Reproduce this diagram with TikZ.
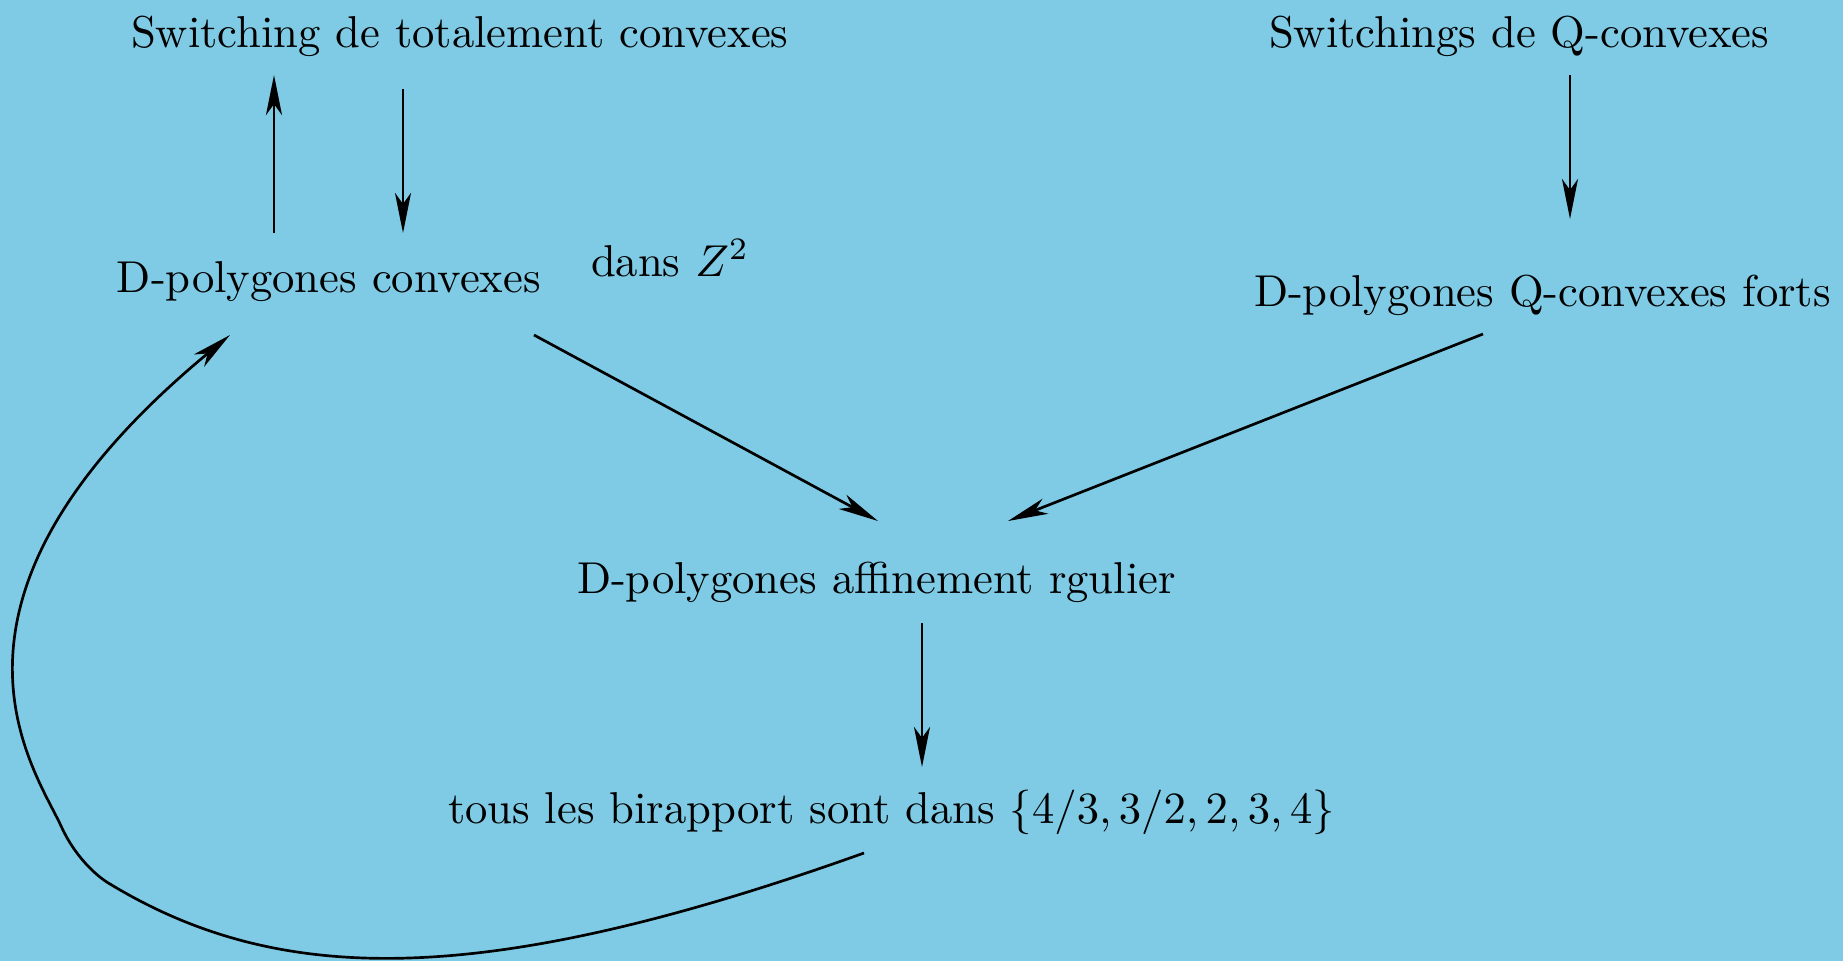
\documentclass[tikz,border=0pt]{standalone}
\usetikzlibrary{arrows.meta,calc}
\definecolor{bgblue}{RGB}{127,203,229}
\begin{document}
\begin{tikzpicture}[x=0.224pt,y=-0.224pt,
  lbl/.style={inner sep=0pt,outer sep=0pt,anchor=base west,font=\normalsize},
  arr/.style={line width=0.6pt,-{Stealth[length=9pt,width=3.6pt,inset=2.5pt]}}]
\fill[bgblue] (0,0) rectangle (1843,961);
\useasboundingbox (0,0) rectangle (1843,961);
\node[lbl] (st) at (131,47) {Switching de totalement convexes};
\node[lbl] (sq) at (1269,47) {Switchings de Q-convexes};
\node[lbl] (dc) at (117,292) {D-polygones convexes};
\node[lbl] (dz) at (591,276) {dans $Z^2$};
\node[lbl] (dq) at (1254,306) {D-polygones Q-convexes forts};
\node[lbl] (da) at (577,593) {D-polygones affinement rgulier};
\node[lbl] (tb) at (448,823) {tous les birapport sont dans $\{4/3,3/2,2,3,4\}$};
\coordinate (b1) at (110,884);
\coordinate (b2) at (62,828);
\draw[arr] ($(dc.base west)+(157,-59)$) -- ($(st.base west)+(143,28)$);
\draw[arr] ($(st.base west)+(272,42)$) -- ($(dc.base west)+(286,-59)$);
\draw[arr] ($(sq.base west)+(301,28)$) -- ($(dq.base west)+(316,-87)$);
\draw[arr] ($(dc.base west)+(417,43)$) -- ($(da.base west)+(301,-72)$);
\draw[arr] ($(dq.base west)+(229,28)$) -- ($(da.base west)+(431,-72)$);
\draw[arr] ($(da.base west)+(345,30)$) -- ($(tb.base west)+(474,-56)$);
\draw[arr] ($(tb.base west)+(416,30)$) .. controls (478,991) and (277,985) .. (b1)
  .. controls (96,876) and (75,856) .. (b2)
  .. controls (36,770) and (-93,602) .. ($(dc.base west)+(113,43)$);
\end{tikzpicture}
\end{document}
